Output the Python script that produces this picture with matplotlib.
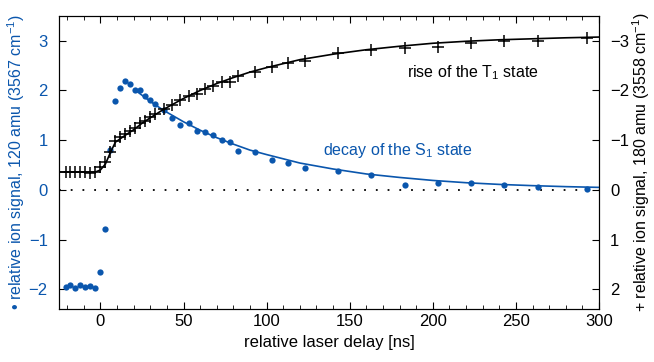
import matplotlib
matplotlib.use('Agg')
import matplotlib.pyplot as plt
from matplotlib.ticker import MultipleLocator

plt.rcParams['font.family'] = ['Liberation Sans', 'DejaVu Sans']
plt.rcParams['mathtext.fontset'] = 'custom'
plt.rcParams['mathtext.rm'] = 'Liberation Sans'

BLUE = '#0a56ad'

# S1 decay, 120 amu (left axis)
s1_t = [-21, -18, -15, -12, -9, -6, -3, 0, 3, 6, 9, 12, 15, 18, 21, 24, 27, 30, 33,
        38, 43, 48, 53, 58, 63, 68, 73, 78, 83, 93, 103, 113, 123,
        143, 163, 183, 203, 223, 243, 263, 293]
s1_y = [-1.95, -1.91, -1.98, -1.92, -1.95, -1.93, -1.98, -1.66, -0.79, 0.80, 1.78, 2.05, 2.20,
        2.13, 2.00, 2.00, 1.88, 1.80, 1.73,
        1.61, 1.45, 1.30, 1.34, 1.19, 1.16, 1.11, 1.00, 0.97, 0.79, 0.76, 0.60, 0.55, 0.45,
        0.38, 0.30, 0.09, 0.14, 0.13, 0.09, 0.05, 0.01]
s1_fit_t = [22, 30, 38, 50, 60, 70, 80, 90, 100, 120, 140, 160, 180, 200, 220, 240, 260, 280, 300]
s1_fit_y = [1.98, 1.78, 1.60, 1.37, 1.20, 1.05, 0.92, 0.80, 0.71, 0.54, 0.42, 0.32, 0.25,
            0.19, 0.144, 0.11, 0.085, 0.065, 0.05]

# T1 rise, 180 amu (right axis, inverted)
t1_t = [-21, -18, -15, -12, -9, -6, -3, 0, 3, 6, 9, 12, 15, 18, 21, 24, 27, 30, 33,
        38, 43, 48, 53, 58, 63, 68, 73, 78, 83, 93, 103, 113, 123,
        143, 163, 183, 203, 223, 243, 263, 293]
t1_y = [-0.36, -0.36, -0.36, -0.36, -0.36, -0.34, -0.36, -0.47, -0.57, -0.76, -0.98, -1.07, -1.13,
        -1.19, -1.25, -1.34, -1.39, -1.46, -1.52,
        -1.62, -1.70, -1.80, -1.89, -1.93, -2.03, -2.09, -2.18, -2.18, -2.29, -2.38, -2.48, -2.56, -2.60,
        -2.75, -2.82, -2.85, -2.88, -2.96, -3.00, -3.00, -3.05]
t1_fit_t = [-25, -3, 0, 3, 6, 9, 12, 15, 20, 25, 30, 38, 50, 60, 70, 80, 90, 100,
            120, 140, 160, 180, 200, 220, 240, 260, 280, 300]
t1_fit_y = [-0.36, -0.36, -0.40, -0.52, -0.75, -0.96, -1.03, -1.10, -1.21, -1.34, -1.45, -1.62,
            -1.84, -2.00, -2.14, -2.26, -2.37, -2.46, -2.62, -2.73, -2.82, -2.89, -2.95,
            -2.99, -3.02, -3.04, -3.06, -3.075]

fig = plt.figure(figsize=(6.54, 3.62), dpi=100)
ax = fig.add_axes([0.090, 0.146, 0.826, 0.810])
ax2 = ax.twinx()

ax.axhline(0, color='black', lw=1.3, linestyle=(0, (1, 5.5)), zorder=1)
ax.plot(s1_fit_t, s1_fit_y, color=BLUE, lw=1.2, zorder=2)
ax.plot(s1_t, s1_y, 'o', color=BLUE, ms=4.5, mew=0, zorder=3)
ax2.plot(t1_fit_t, t1_fit_y, color='black', lw=1.2, zorder=2)
ax2.plot(t1_t, t1_y, '+', color='black', ms=9, mew=1.1, zorder=3)

ax.set_xlim(-25, 300)
ax.set_ylim(-2.4, 3.5)
ax2.set_ylim(2.4, -3.5)

ax.xaxis.set_major_locator(MultipleLocator(50))
ax.xaxis.set_minor_locator(MultipleLocator(10))
ax.yaxis.set_major_locator(MultipleLocator(1))
ax2.yaxis.set_major_locator(MultipleLocator(1))

ax.tick_params(axis='x', which='both', direction='in', top=True, labelsize=12)
ax.tick_params(axis='x', which='major', length=5)
ax.tick_params(axis='x', which='minor', length=3)
ax.tick_params(axis='y', direction='in', length=5, labelsize=12, labelcolor=BLUE, pad=8)
ax2.tick_params(axis='y', direction='in', length=5, labelsize=12, pad=8)

ax.set_xlabel('relative laser delay [ns]', fontsize=12)
ax.set_ylabel('\u2022 relative ion signal, 120 amu (3567 cm$^{-1}$)', color=BLUE,
              fontsize=11.5, labelpad=1)
ax2.set_ylabel('+ relative ion signal, 180 amu (3558 cm$^{-1}$)', fontsize=11.5,
               rotation=90, labelpad=1)

ax.text(224, 2.35, 'rise of the T$_1$ state', fontsize=11.5, ha='center', va='center')
ax.text(179, 0.80, 'decay of the S$_1$ state', fontsize=11.5, ha='center', va='center', color=BLUE)

fig.savefig('out.png', dpi=100)
